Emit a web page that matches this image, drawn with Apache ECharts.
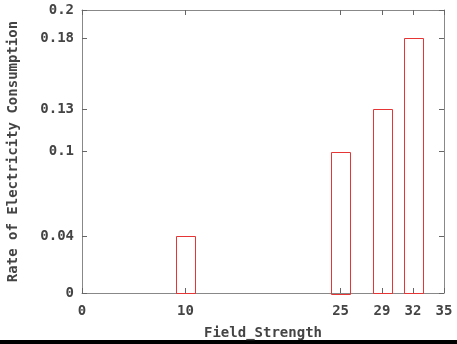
<!DOCTYPE html>
<html><head><meta charset="utf-8">
<script src="https://cdn.jsdelivr.net/npm/echarts@6/dist/echarts.min.js"></script>
<style>html,body{margin:0;padding:0;background:#fff}#c{width:457px;height:344px}</style>
</head><body><div id="c"></div>
<script>
const fieldStrength = [10, 25, 29, 32];
const consumption = [0.04, 0.1, 0.13, 0.18];
const xTicks = [0, 10, 25, 29, 32, 35];
const yTicks = [0, 0.04, 0.1, 0.13, 0.18, 0.2];
const boxWidth = 1.8;

const font = {fontFamily: 'DejaVu Sans Mono', fontWeight: 'bold', fontSize: 14, color: '#444'};
const axisLine = {show: true, onZero: false, lineStyle: {color: '#888', width: 1}};
const tick = (vals) => ({show: true, inside: true, length: 5, customValues: vals, lineStyle: {color: '#666'}});

const chart = echarts.init(document.getElementById('c'), null, {renderer: 'canvas'});
chart.setOption({
  animation: false,
  backgroundColor: '#fff',
  grid: {left: 82, right: 13, top: 10, bottom: 51, containLabel: false, outerBoundsMode: 'none'},
  xAxis: [
    {type: 'value', min: 0, max: 35, position: 'bottom', axisLine, axisTick: tick(xTicks),
     axisLabel: Object.assign({customValues: xTicks, margin: 11}, font), splitLine: {show: false},
     name: 'Field_Strength', nameLocation: 'middle', nameGap: 33, nameTextStyle: font},
    {type: 'value', min: 0, max: 35, position: 'top', axisLine, axisTick: tick(xTicks),
     axisLabel: {show: false}, splitLine: {show: false}}
  ],
  yAxis: [
    {type: 'value', min: 0, max: 0.2, position: 'left', axisLine, axisTick: tick(yTicks),
     axisLabel: Object.assign({customValues: yTicks, margin: 8}, font), splitLine: {show: false},
     name: 'Rate of Electricity Consumption', nameLocation: 'middle', nameGap: 62, nameTextStyle: font},
    {type: 'value', min: 0, max: 0.2, position: 'right', axisLine, axisTick: tick(yTicks),
     axisLabel: {show: false}, splitLine: {show: false}}
  ],
  series: [{
    type: 'custom',
    xAxisIndex: 0, yAxisIndex: 0,
    data: fieldStrength.map((x, i) => [x, consumption[i]]),
    renderItem: function (params, api) {
      const x = api.value(0), y = api.value(1);
      const p0 = api.coord([x - boxWidth / 2, y]);
      const p1 = api.coord([x + boxWidth / 2, 0]);
      return {
        type: 'rect',
        shape: {x: Math.round(p0[0]) + 0.5, y: Math.round(p0[1]) + 0.5, width: Math.round(p1[0] - p0[0]), height: Math.round(p1[1] - p0[1])},
        style: {fill: 'none', stroke: '#e53535', lineWidth: 1}
      };
    }
  }],
  graphic: [{type: 'rect', left: 0, top: 340, shape: {width: 457, height: 4}, style: {fill: '#000'}, silent: true}]
});
</script></body></html>
